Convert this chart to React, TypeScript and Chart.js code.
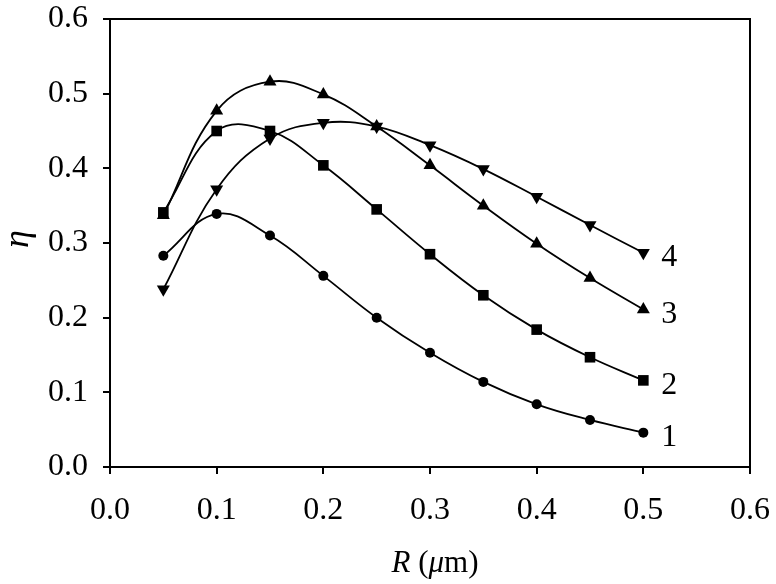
import React, { useEffect, useRef } from 'react';
import { Chart, registerables } from 'chart.js';

Chart.register(...registerables);

// ---- Data ----
const R_VALUES = [0.05, 0.1, 0.15, 0.2, 0.25, 0.3, 0.35, 0.4, 0.45, 0.5];
const ETA_1 = [0.283, 0.339, 0.310, 0.256, 0.200, 0.153, 0.114, 0.084, 0.063, 0.046];
const ETA_2 = [0.341, 0.450, 0.450, 0.404, 0.345, 0.285, 0.230, 0.184, 0.147, 0.116];
const ETA_3 = [0.337, 0.477, 0.516, 0.499, 0.456, 0.404, 0.350, 0.299, 0.253, 0.211];
const ETA_4 = [0.238, 0.372, 0.440, 0.461, 0.456, 0.431, 0.399, 0.362, 0.324, 0.287];
const SERIES_LABELS = ['1', '2', '3', '4'];
const SERIES_VALUES = [ETA_1, ETA_2, ETA_3, ETA_4];
const X_MIN = 0;
const X_MAX = 0.6;
const Y_MIN = 0;
const Y_MAX = 0.6;
const TICK_STEP = 0.1;

const FONT = "'Liberation Serif', 'Times New Roman', serif";

const MARKERS = [
  { pointStyle: 'circle', radius: 5, rotation: 0 },
  { pointStyle: 'rect', radius: 7.5, rotation: 0 },
  { pointStyle: 'triangle', radius: 7.5, rotation: 0 },
  { pointStyle: 'triangle', radius: 7.5, rotation: 180 },
];

const framePlugin = {
  id: 'frame',
  afterDraw(chart: any) {
    const { ctx, chartArea } = chart;
    ctx.save();
    ctx.strokeStyle = '#000';
    ctx.lineWidth = 2;
    ctx.strokeRect(chartArea.left, chartArea.top, chartArea.right - chartArea.left, chartArea.bottom - chartArea.top);
    ctx.restore();
  },
};

const labelsPlugin = {
  id: 'seriesLabels',
  afterDatasetsDraw(chart: any) {
    const { ctx } = chart;
    ctx.save();
    ctx.fillStyle = '#000';
    ctx.font = `32px ${FONT}`;
    ctx.textAlign = 'left';
    ctx.textBaseline = 'middle';
    chart.data.datasets.forEach((ds: any, i: number) => {
      const meta = chart.getDatasetMeta(i);
      const last = meta.data[meta.data.length - 1];
      if (!last) return;
      ctx.fillText(SERIES_LABELS[i], last.x + 18, last.y + 5);
    });
    ctx.restore();
  },
};

const titlesPlugin = {
  id: 'axisTitles',
  afterDraw(chart: any) {
    const { ctx, chartArea } = chart;
    ctx.save();
    ctx.fillStyle = '#000';
    // Y title (eta), rotated
    ctx.translate(19, 239);
    ctx.rotate(-Math.PI / 2);
    ctx.font = `italic 36px ${FONT}`;
    ctx.textAlign = 'center';
    ctx.textBaseline = 'middle';
    ctx.fillText('η', 0, 0);
    ctx.setTransform(1, 0, 0, 1, 0, 0);
    // X title: R (μm) with mixed italics
    const parts = [
      { t: 'R', it: true },
      { t: ' (', it: false },
      { t: 'μ', it: true },
      { t: 'm)', it: false },
    ];
    const size = 31;
    let total = 0;
    const widths = parts.map((p) => {
      ctx.font = `${p.it ? 'italic ' : ''}${size}px ${FONT}`;
      const w = ctx.measureText(p.t).width;
      total += w;
      return w;
    });
    let x = (chartArea.left + chartArea.right) / 2 - total / 2 + 5;
    const y = 572;
    ctx.textAlign = 'left';
    ctx.textBaseline = 'alphabetic';
    parts.forEach((p, i) => {
      ctx.font = `${p.it ? 'italic ' : ''}${size}px ${FONT}`;
      ctx.fillText(p.t, x, y);
      x += widths[i];
    });
    ctx.restore();
  },
};

const zeroPad = (s: any) => {
  s.paddingTop = 0;
  s.paddingBottom = 0;
  s.paddingLeft = 0;
  s.paddingRight = 0;
};

export default function App() {
  const canvasRef = useRef<HTMLCanvasElement | null>(null);

  useEffect(() => {
    const canvas = canvasRef.current;
    if (!canvas) return;
    const datasets = SERIES_VALUES.map((vals, i) => ({
      label: SERIES_LABELS[i],
      data: R_VALUES.map((r, j) => ({ x: r, y: vals[j] })),
      borderColor: '#000',
      backgroundColor: '#000',
      borderWidth: 1.8,
      pointStyle: MARKERS[i].pointStyle as any,
      pointRadius: MARKERS[i].radius,
      pointRotation: MARKERS[i].rotation,
      pointBackgroundColor: '#000',
      pointBorderColor: '#000',
      pointBorderWidth: 0,
      tension: 0.4,
      fill: false,
    }));

    const chart = new Chart(canvas, {
      type: 'line',
      data: { datasets },
      plugins: [framePlugin, labelsPlugin, titlesPlugin],
      options: {
        animation: false,
        responsive: false,
        maintainAspectRatio: false,
        layout: { padding: { left: 0, top: 19, right: 26, bottom: 0 } },
        plugins: { legend: { display: false }, tooltip: { enabled: false } },
        scales: {
          x: {
            type: 'linear',
            min: X_MIN,
            max: X_MAX,
            afterFit: (s: any) => { s.height = 117; zeroPad(s); },
            ticks: {
              stepSize: TICK_STEP,
              color: '#000',
              font: { family: FONT, size: 32 },
              padding: 17,
              maxRotation: 0,
              callback: (v: any) => Number(v).toFixed(1),
            },
            grid: { display: true, drawOnChartArea: false, drawTicks: true, tickLength: 7, color: '#000', lineWidth: 2 },
            border: { display: true, color: '#000', width: 2 },
          },
          y: {
            type: 'linear',
            min: Y_MIN,
            max: Y_MAX,
            afterFit: (s: any) => { s.width = 110; zeroPad(s); },
            ticks: {
              stepSize: TICK_STEP,
              color: '#000',
              font: { family: FONT, size: 32 },
              padding: 15,
              callback: (v: any) => Number(v).toFixed(1),
            },
            grid: { display: true, drawOnChartArea: false, drawTicks: true, tickLength: 7, color: '#000', lineWidth: 2 },
            border: { display: true, color: '#000', width: 2 },
          },
        },
      },
    });
    return () => chart.destroy();
  }, []);

  return (
    <div style={{ position: 'fixed', left: 0, top: 0, width: 776, height: 584, background: '#fff' }}>
      <canvas ref={canvasRef} width={776} height={584} style={{ width: 776, height: 584, display: 'block' }} />
    </div>
  );
}
